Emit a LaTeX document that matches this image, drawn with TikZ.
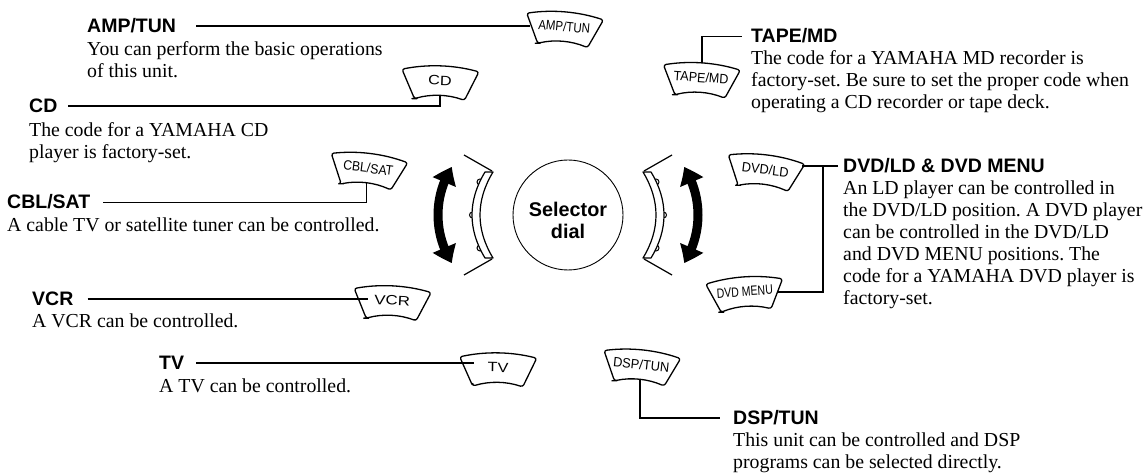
\documentclass[tikz,border=0pt]{standalone}
\usepackage{fontspec}
\usepackage{graphicx}
\setmainfont{Liberation Serif}
\newfontfamily\hfont{Liberation Sans}
\newfontfamily\btnfont{Liberation Sans}
\newcommand{\bw}[2]{\scalebox{#1}[1]{#2}}
\usetikzlibrary{arrows.meta,bending}
\frenchspacing

\tikzset{
  conn/.style={line width=1.9pt},
  headtxt/.style={font=\hfont\bfseries\fontsize{19.5}{22}\selectfont, inner sep=0pt, anchor=base west},
  bodytxt/.style={font=\fontsize{19.8}{22}\selectfont, inner sep=0pt, anchor=base west},
  btnline/.style={line width=1.3pt, line join=round, rounded corners=2.5pt, fill=white},
  btnlabel/.style={font=\btnfont\fontsize{13.5}{14}\selectfont, inner sep=0pt, transform shape},
  dialline/.style={line width=1.2pt},
  bigarrow/.style={line width=9pt, {Triangle[width=24pt,length=17pt,bend]}-{Triangle[width=24pt,length=17pt,bend]}},
  btn/.pic={
    \draw[btnline] (-25,-16.5) -- (-38.5,12.5) .. controls (-12.8,18.5) and (12.8,18.5) .. (38.5,12.5) -- (25,-16.5) .. controls (8.33,-11.17) and (-8.33,-11.17) .. cycle;
    \node[btnlabel] (-label) at (0,2.5) {#1};
    \coordinate (-wn) at (-34.5,4);
    \coordinate (-in) at (-24,4);
    \coordinate (-e) at (32.7,0);
    \coordinate (-ne) at (36.4,8);
    \coordinate (-n) at (0,17);
    \coordinate (-s) at (0,-12.5);
  },
  dialside/.pic={
    \draw[bigarrow] (-40.7,0) ++(147.5:89.3) arc[start angle=147.5, end angle=212.5, radius=89.3];
    \draw[dialline] (-104,60) -- (-76,44);
    \draw[dialline] (-76,-44) -- (-104,-60);
    \draw[line width=1pt, fill=white] (-88,33) circle (3) (-95.5,0) circle (3) (-88,-33) circle (3);
    \draw[dialline, fill=white, line join=round] (-83,43) .. controls (-100.33,14.33) and (-100.33,-14.33) .. (-83,-43) -- (-75,-43) .. controls (-92.33,-14.33) and (-92.33,14.33) .. (-75,43) -- cycle;
  }
}

\begin{document}
\begin{tikzpicture}[x=1pt,y=1pt]
\fill[white] (0,0) rectangle (1145,473);
\useasboundingbox (0,0) rectangle (1145,473);

% selector dial
\node[circle, draw, line width=0.9pt, minimum size=110pt, inner sep=0pt] (dial) at (568,258) {};
\node[font=\hfont\bfseries\fontsize{19.8}{22}\selectfont, inner sep=0pt, anchor=base] (dialtxt) at (568,256)
  {\begin{tabular}[t]{@{}c@{}}Selector\\dial\end{tabular}};
\pic at (568,258) {dialside};
\pic[xscale=-1] at (568,258) {dialside};

% buttons
\pic[rotate=-5] (amp) at (564,444) {btn={\bw{0.85}{AMP/TUN}}};
\pic[rotate=-2] (cd) at (440,390) {btn={\bw{1.2}{CD}}};
\pic[rotate=-4] (tape) at (701,393) {btn={\bw{0.93}{TAPE/MD}}};
\pic[rotate=-7] (cbl) at (368,302.5) {btn={\bw{0.91}{CBL/SAT}}};
\pic[rotate=-7] (dvdld) at (765,301) {btn={\bw{0.95}{DVD/LD}}};
\pic[rotate=-3] (vcr) at (392,170) {btn={\bw{1.25}{VCR}}};
\pic[rotate=4] (dvdmenu) at (745,179) {btn={\bw{0.78}{DVD MENU}}};
\pic[rotate=-1] (tv) at (498,103) {btn={\bw{1.2}{TV}}};
\pic[rotate=-6] (dsp) at (641,106) {btn={\bw{0.95}{DSP/TUN}}};

% headings and descriptions
\node[headtxt] (hamp) at (87,440) {AMP/TUN};
\node[bodytxt] (bamp) at (87,417) {\begin{tabular}[t]{@{}l@{}}You can perform the basic operations\\of this unit.\end{tabular}};

\node[headtxt] (hcd) at (29,360) {CD};
\node[bodytxt] (bcd) at (29,336) {\begin{tabular}[t]{@{}l@{}}The code for a YAMAHA CD\\player is factory-set.\end{tabular}};

\node[headtxt] (hcbl) at (7,264) {CBL/SAT};
\node[bodytxt] (bcbl) at (7,241) {A cable TV or satellite tuner can be controlled.};

\node[headtxt] (hvcr) at (32,167) {VCR};
\node[bodytxt] (bvcr) at (32,145) {A VCR can be controlled.};

\node[headtxt] (htv) at (159,103) {TV};
\node[bodytxt] (btv) at (159,80) {A TV can be controlled.};

\node[headtxt] (htape) at (751,430) {TAPE/MD};
\node[bodytxt] (btape) at (751,408) {\begin{tabular}[t]{@{}l@{}}The code for a YAMAHA MD recorder is\\factory-set. Be sure to set the proper code when\\operating a CD recorder or tape deck.\end{tabular}};

\node[headtxt] (hdvd) at (843,300) {DVD/LD \& DVD MENU};
\node[bodytxt] (bdvd) at (843,278) {\begin{tabular}[t]{@{}l@{}}An LD player can be controlled in\\the DVD/LD position. A DVD player\\can be controlled in the DVD/LD\\and DVD MENU positions. The\\code for a YAMAHA DVD player is\\factory-set.\end{tabular}};

\node[headtxt] (hdsp) at (733,48) {DSP/TUN};
\node[bodytxt] (bdsp) at (733,26) {\begin{tabular}[t]{@{}l@{}}This unit can be controlled and DSP\\programs can be selected directly.\end{tabular}};

% connectors
\coordinate (c1) at ([shift={(20pt,7pt)}]hamp.base east);
\draw[conn] (c1) -- (c1 -| amp-wn);
\coordinate (c2) at ([shift={(10pt,7pt)}]hcd.base east);
\draw[conn] (cd-s) |- (c2);
\coordinate (c3) at ([shift={(13pt,6.5pt)}]hcbl.base east);
\draw[conn] (cbl-s) |- (c3);
\coordinate (c4) at ([shift={(14pt,7pt)}]hvcr.base east);
\draw[conn] (c4) -- (c4 -| vcr-in);
\coordinate (c5) at ([shift={(12pt,7pt)}]htv.base east);
\draw[conn] (c5) -- (c5 -| tv-in);
\coordinate (c6) at ([shift={(-9pt,6.5pt)}]htape.base west);
\draw[conn] (tape-n) |- (c6);
\coordinate (c7) at ([shift={(-5pt,7pt)}]hdvd.base west);
\coordinate (c7j) at ([shift={(-20pt,7pt)}]hdvd.base west);
\draw[conn] (c7) -- (c7 -| dvdld-ne);
\draw[conn] (c7j) |- (dvdmenu-e);
\coordinate (c8) at ([shift={(-13pt,7pt)}]hdsp.base west);
\draw[conn] (dsp-s) |- (c8);
\end{tikzpicture}
\end{document}
